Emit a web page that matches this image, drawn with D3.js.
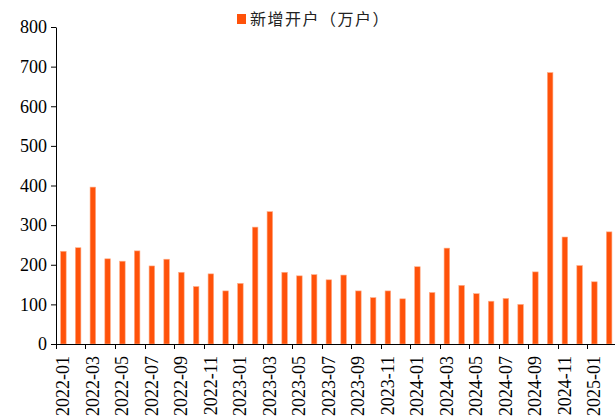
<!DOCTYPE html>
<html>
<head>
<meta charset="utf-8">
<script src="https://cdn.jsdelivr.net/npm/d3@7"></script>
<style>
  html, body { margin: 0; padding: 0; background: #fff; }
  svg { display: block; }
</style>
</head>
<body>
<div id="chart"></div>
<script>
// 月份
const months = [
  '2022-01','2022-02','2022-03','2022-04','2022-05','2022-06','2022-07','2022-08','2022-09','2022-10','2022-11','2022-12',
  '2023-01','2023-02','2023-03','2023-04','2023-05','2023-06','2023-07','2023-08','2023-09','2023-10','2023-11','2023-12',
  '2024-01','2024-02','2024-03','2024-04','2024-05','2024-06','2024-07','2024-08','2024-09','2024-10','2024-11','2024-12',
  '2025-01','2025-02'
];
// 新增开户（万户）
const newAccounts = [
  234, 243, 396, 215, 209, 235, 197, 214, 181, 145, 177, 134,
  153, 295, 334, 181, 172, 175, 162, 174, 134, 117, 134, 114,
  195, 130, 242, 148, 127, 108, 115, 100, 182, 685, 270, 198,
  157, 283
];
const yTicks = [0, 100, 200, 300, 400, 500, 600, 700, 800];
const seriesName = '新增开户（万户）';

const W = 615, H = 418;
const mLeft = 56, mBottom = 344, mTop = 27;
const step = 14.75;
const mRight = mLeft + months.length * step;

const svg = d3.select('#chart').append('svg')
  .attr('width', W).attr('height', H);

const x = d3.scaleBand()
  .domain(months)
  .range([mLeft, mRight])
  .paddingInner(0.62)
  .paddingOuter(0.31);

const y = d3.scaleLinear().domain([0, 800]).range([mBottom, mTop]);

// 柱子
svg.append('g')
  .selectAll('rect')
  .data(months.map((m, i) => ({ m, v: newAccounts[i] })))
  .join('rect')
  .attr('x', d => x(d.m))
  .attr('width', x.bandwidth())
  .attr('y', d => y(d.v))
  .attr('height', d => y(0) - y(d.v))
  .attr('fill', '#ff520a')
  .attr('stroke', '#ffb08c')
  .attr('stroke-width', 0.6);

// y 轴
const yAxis = svg.append('g')
  .attr('transform', `translate(${mLeft},0)`)
  .call(d3.axisLeft(y).tickValues(yTicks).tickSize(5).tickSizeOuter(0).tickPadding(4));
yAxis.selectAll('text')
  .attr('font-family', '"Liberation Serif", "Times New Roman", serif')
  .attr('font-size', 18)
  .attr('fill', '#000');

// x 轴（刻度在每两个月的分界处，标签在奇数月中间）
const xAxis = svg.append('g');
xAxis.append('line')
  .attr('x1', mLeft).attr('x2', W)
  .attr('y1', mBottom + 0.5).attr('y2', mBottom + 0.5)
  .attr('stroke', '#000');
const tickMonths = months.filter((m, i) => i % 2 === 0);
xAxis.selectAll('line.tick')
  .data(tickMonths)
  .join('line')
  .attr('class', 'tick')
  .attr('x1', d => Math.round(x(d) - x.step() * x.paddingOuter()) + 0.5)
  .attr('x2', d => Math.round(x(d) - x.step() * x.paddingOuter()) + 0.5)
  .attr('y1', mBottom).attr('y2', mBottom + 5)
  .attr('stroke', '#000');
xAxis.selectAll('text')
  .data(tickMonths)
  .join('text')
  .attr('transform', d => `translate(${x(d) + x.bandwidth() / 2 + 6},${mBottom + 12}) rotate(-90)`)
  .attr('text-anchor', 'end')
  .attr('font-family', '"Liberation Serif", "Times New Roman", serif')
  .attr('font-size', 18)
  .attr('fill', '#000')
  .text(d => d);

svg.selectAll('.domain').attr('stroke', '#000');
svg.selectAll('.tick line').attr('stroke', '#000');

// 图例
const legend = svg.append('g').attr('transform', 'translate(237,14)');
legend.append('rect')
  .attr('width', 9).attr('height', 10)
  .attr('fill', '#ff520a');
legend.append('text')
  .attr('x', 13).attr('y', 11)
  .attr('font-family', '"Noto Sans CJK SC", sans-serif')
  .attr('font-size', 16)
  .attr('letter-spacing', 1.5)
  .attr('fill', '#222')
  .text(seriesName);
</script>
</body>
</html>
